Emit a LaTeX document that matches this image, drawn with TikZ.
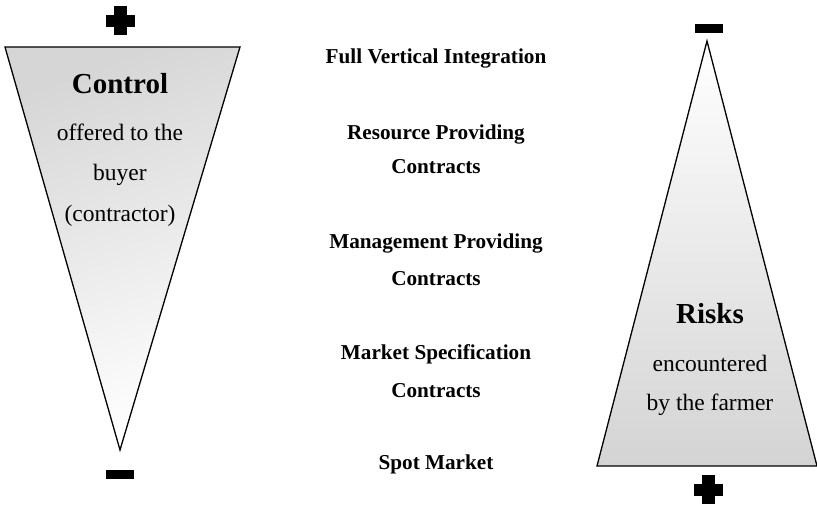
\documentclass[tikz,border=0pt]{standalone}
\usepackage{fontspec}
\setmainfont{Liberation Serif}
\begin{document}
\begin{tikzpicture}[x=1pt,y=-1pt,
  tri/.style={draw=black,line width=1.3pt,line join=miter},
  plain/.style={anchor=base,font=\fontsize{23.5}{28}\selectfont,inner sep=0pt},
  head/.style={anchor=base,font=\fontsize{29}{34}\selectfont\bfseries,inner sep=0pt},
  mid/.style={anchor=base,font=\fontsize{21.2}{25}\selectfont\bfseries,inner sep=0pt},
  signbar/.style={fill=black,draw=none}]
\useasboundingbox (0,0) rectangle (817,504);
% left triangle
\coordinate (LA) at (5,47);
\coordinate (LB) at (240,47);
\coordinate (LC) at (120,450);
\shade[top color=black!16,bottom color=white,shading angle=20] (LA) -- (LB) -- (LC) -- cycle;
\draw[tri] (LA) -- (LB) -- (LC) -- cycle;
% right triangle
\coordinate (RA) at (707,41);
\coordinate (RB) at (817,466);
\coordinate (RC) at (597,466);
\shade[top color=white,bottom color=black!17] (RA) -- (RB) -- (RC) -- cycle;
\draw[tri] (RA) -- (RB) -- (RC) -- cycle;
% plus / minus signs
\fill[signbar] (106,15) rectangle (135,27);
\fill[signbar] (114,6) rectangle (127,35);
\fill[signbar] (106,470) rectangle (134,479);
\fill[signbar] (695,24) rectangle (723,33);
\fill[signbar] (694,484) rectangle (723,496);
\fill[signbar] (702,475) rectangle (715,504);
% left texts
\node[head] (control) at (120,93) {Control};
\node[plain] (l1) at (120,140) {offered to the};
\node[plain] (l2) at (120,180) {buyer};
\node[plain] (l3) at (120,221) {(contractor)};
% middle texts
\node[mid] (m1) at (436,63) {Full Vertical Integration};
\node[mid] (m2) at (436,139) {Resource Providing};
\node[mid] (m3) at (436,173) {Contracts};
\node[mid] (m4) at (436,248) {Management Providing};
\node[mid] (m5) at (436,285) {Contracts};
\node[mid] (m6) at (436,359) {Market Specification};
\node[mid] (m7) at (436,397) {Contracts};
\node[mid] (m8) at (436,469) {Spot Market};
% right texts
\node[head] (risks) at (710,323) {Risks};
\node[plain] (r1) at (710,371) {encountered};
\node[plain] (r2) at (710,410) {by the farmer};
\end{tikzpicture}
\end{document}
